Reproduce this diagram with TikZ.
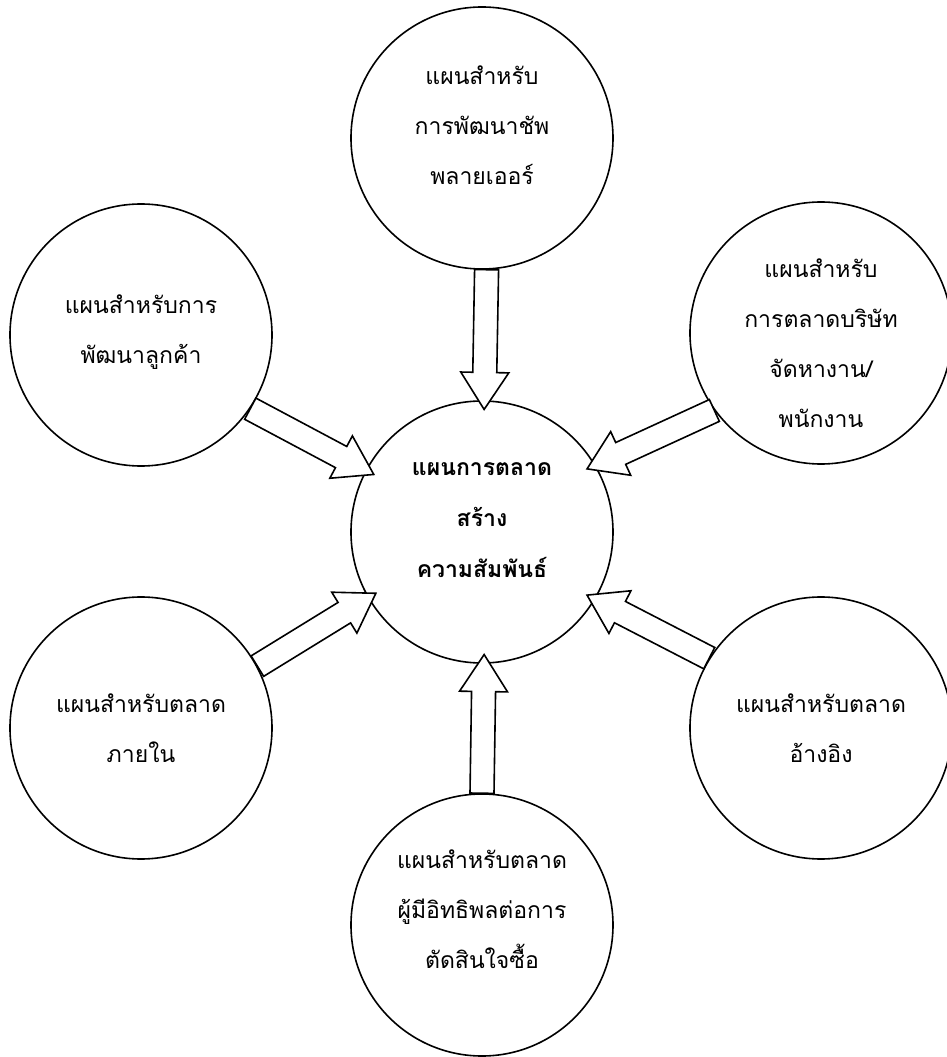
\documentclass[tikz,border=0pt]{standalone}
\usepackage{fontspec}
\newfontfamily\thaifont[Script=Thai]{Loma}
\usetikzlibrary{calc}

\begin{document}
\begin{tikzpicture}[x=1pt, y=1pt,
    bubble/.style={circle, draw, line width=1.6pt, minimum size=262pt, inner sep=0pt},
    caption/.style={align=center, font=\thaifont\fontsize{23}{50}\selectfont},
    hubcaption/.style={align=center, font=\thaifont\bfseries\fontsize{23}{51}\selectfont},
    flow/.style={draw, fill=white, line width=1.6pt, line join=miter}]

\useasboundingbox (-482,-525) rectangle (464,532);

% Centre plan
\node[bubble] (hub) at (0,0) {};
\node[hubcaption] (hub-text) at ([yshift=12pt]hub.center) {แผนการตลาด\\สร้าง\\ความสัมพันธ์};

% Outer plans
\node[bubble] (supplier) at (0,394) {};
\node[caption] (supplier-text) at ([yshift=13pt]supplier.center) {แผนสำหรับ\\การพัฒนาชัพ\\พลายเออร์};
\node[bubble] (customer) at (-341,197) {};
\node[caption] (customer-text) at ([yshift=3pt]customer.center) {แผนสำหรับการ\\พัฒนาลูกค้า};
\node[bubble] (agency) at (339,199) {};
\node[caption] (agency-text) at ([yshift=-10pt]agency.center) {แผนสำหรับ\\การตลาดบริษัท\\จัดหางาน/\\พนักงาน};
\node[bubble] (internal) at (-341,-196) {};
\node[caption] (internal-text) at (internal.center) {แผนสำหรับตลาด\\ภายใน};
\node[bubble] (referral) at (339,-196) {};
\node[caption] (referral-text) at (referral.center) {แผนสำหรับตลาด\\อ้างอิง};
\node[bubble] (influencer) at (0,-393) {};
\node[caption] (influencer-text) at ([yshift=16pt]influencer.center) {แผนสำหรับตลาด\\ผู้มีอิทธิพลต่อการ\\ตัดสินใจซื้อ};

% Block arrows into the centre
\foreach \src/\sa/\ha in {supplier/272/89, customer/326/152, agency/216/31,
                          internal/28/210, referral/148/329, influencer/90/271}{
  \coordinate (tail) at (\src.\sa);
  \coordinate (tip) at ($(hub.center)!0.93!(hub.\ha)$);
  \coordinate (neck) at ($(tip)!37pt!(tail)$);
  \draw[flow] ($(tail)!12pt!90:(tip)$) -- ($(neck)!12pt!90:(tip)$)
    -- ($(neck)!24pt!90:(tip)$) -- (tip) -- ($(neck)!24pt!-90:(tip)$)
    -- ($(neck)!12pt!-90:(tip)$) -- ($(tail)!12pt!-90:(tip)$) -- cycle;
}

\end{tikzpicture}
\end{document}
